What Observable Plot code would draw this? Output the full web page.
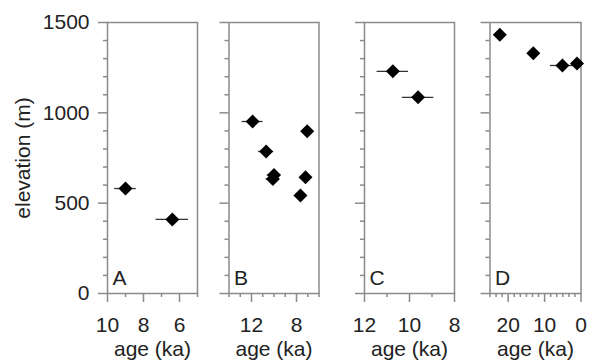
<!DOCTYPE html>
<html>
<head>
<meta charset="utf-8">
<script src="https://cdn.jsdelivr.net/npm/d3@7"></script>
<script src="https://cdn.jsdelivr.net/npm/@observablehq/plot@0.6"></script>
<style>
  html, body { margin: 0; padding: 0; background: #fff; }
  #chart { position: relative; width: 589px; height: 360px; }
  #chart svg { position: absolute; left: 0; top: 0; }
</style>
</head>
<body>
<div id="chart"></div>
<script>
// Sample ages (ka) with 1-sigma uncertainty against elevation (m), four sites.
const siteNames = ["A", "B", "C", "D"];

const ageA  = [9.0, 6.4];
const elevA = [581, 410];
const errA  = [0.6, 0.9];

const ageB  = [11.9, 10.7, 10.0, 10.1, 7.05, 7.2, 7.65];
const elevB = [952, 786, 656, 634, 898, 644, 542];
const errB  = [0.93, 0.67, 0.6, 0.6, 0.3, 0.3, 0.3];

const ageC  = [10.74, 9.62];
const elevC = [1230, 1086];
const errC  = [0.7, 0.7];

const ageD  = [22.3, 13.1, 5.1, 1.1];
const elevD = [1432, 1330, 1262, 1273];
const errD  = [1.0, 1.0, 3.3, 1.0];

// Axis ticks
const yMajor = [0, 500, 1000, 1500];
const yMinor = [100, 200, 300, 400, 600, 700, 800, 900, 1100, 1200, 1300, 1400];

const xDomainA = [10, 5];
const xMajorA = [10, 8, 6];
const xMinorA = [9, 7, 5];

const xDomainB = [14, 6];
const xMajorB = [12, 8];
const xMinorB = [14, 13, 11, 10, 9, 7, 6];

const xDomainC = [12, 8];
const xMajorC = [12, 10, 8];
const xMinorC = [11, 9];

const xDomainD = [25, 0];
const xMajorD = [20, 10, 0];
const xMinorD = [25, 23.333, 21.667, 18.333, 16.667, 15, 13.333, 11.667,
                 8.333, 6.667, 5, 3.333, 1.667];

const yLabel = "elevation (m)";
const xLabel = "age (ka)";

function rows(age, elev, err) {
  return age.map((a, i) => ({age: a, elev: elev[i], err: err[i]}));
}

const sites = [
  {name: siteNames[0], data: rows(ageA, elevA, errA), domain: xDomainA, major: xMajorA, minor: xMinorA, left: 107, right: 197, yText: true},
  {name: siteNames[1], data: rows(ageB, elevB, errB), domain: xDomainB, major: xMajorB, minor: xMinorB, left: 228.5, right: 318.5},
  {name: siteNames[2], data: rows(ageC, elevC, errC), domain: xDomainC, major: xMajorC, minor: xMinorC, left: 364, right: 454},
  {name: siteNames[3], data: rows(ageD, elevD, errD), domain: xDomainD, major: xMajorD, minor: xMinorD, left: 489.5, right: 580.5}
];

const W = 589, H = 360;
const grey = "#8a8a8a";
const ink = "#222";
const blank = () => "";
const plain = d => String(d);

function panel(s) {
  return Plot.plot({
    width: W,
    height: H,
    marginLeft: s.left,
    marginRight: W - s.right,
    marginTop: 22,
    marginBottom: 67,
    style: {
      background: "transparent",
      fontFamily: "'Liberation Sans', Arial, Helvetica, sans-serif",
      fontSize: "21px",
      color: ink
    },
    x: {domain: s.domain, label: null},
    y: {domain: [0, 1500], label: null},
    marks: [
      Plot.axisY({ticks: yMinor, tickSize: 4, tickFormat: blank, stroke: grey, strokeWidth: 1.5, label: null}),
      Plot.axisY({ticks: yMajor, tickSize: 9, tickPadding: 9, tickFormat: s.yText ? plain : blank, stroke: grey, strokeWidth: 1.5, label: null}),
      Plot.axisX({ticks: s.minor, tickSize: 4, tickFormat: blank, stroke: grey, strokeWidth: 1.5, label: null}),
      Plot.axisX({ticks: s.major, tickSize: 9, tickPadding: 14.5, tickFormat: plain, stroke: grey, strokeWidth: 1.5, label: null}),
      Plot.frame({stroke: grey, strokeWidth: 1.5}),
      Plot.ruleY(s.data, {y: "elev", x1: d => d.age + d.err, x2: d => d.age - d.err, stroke: "#333", strokeWidth: 1.3}),
      Plot.dot(s.data, {x: "age", y: "elev", symbol: "diamond2", r: 6.3, fill: "#000", stroke: "none"}),
      Plot.text([s.name], {text: d => d, frameAnchor: "bottom-left", dx: 5, dy: -9, lineAnchor: "bottom", textAnchor: "start", fill: ink}),
      Plot.text([xLabel], {text: d => d, frameAnchor: "bottom", dy: 62, lineAnchor: "bottom", textAnchor: "middle", fill: ink}),
      s.yText ? Plot.text([yLabel], {text: d => d, frameAnchor: "left", dx: -84, rotate: -90, lineAnchor: "middle", textAnchor: "middle", fill: ink}) : null
    ]
  });
}

const chart = document.getElementById("chart");
for (const s of sites) chart.appendChild(panel(s));
</script>
</body>
</html>
